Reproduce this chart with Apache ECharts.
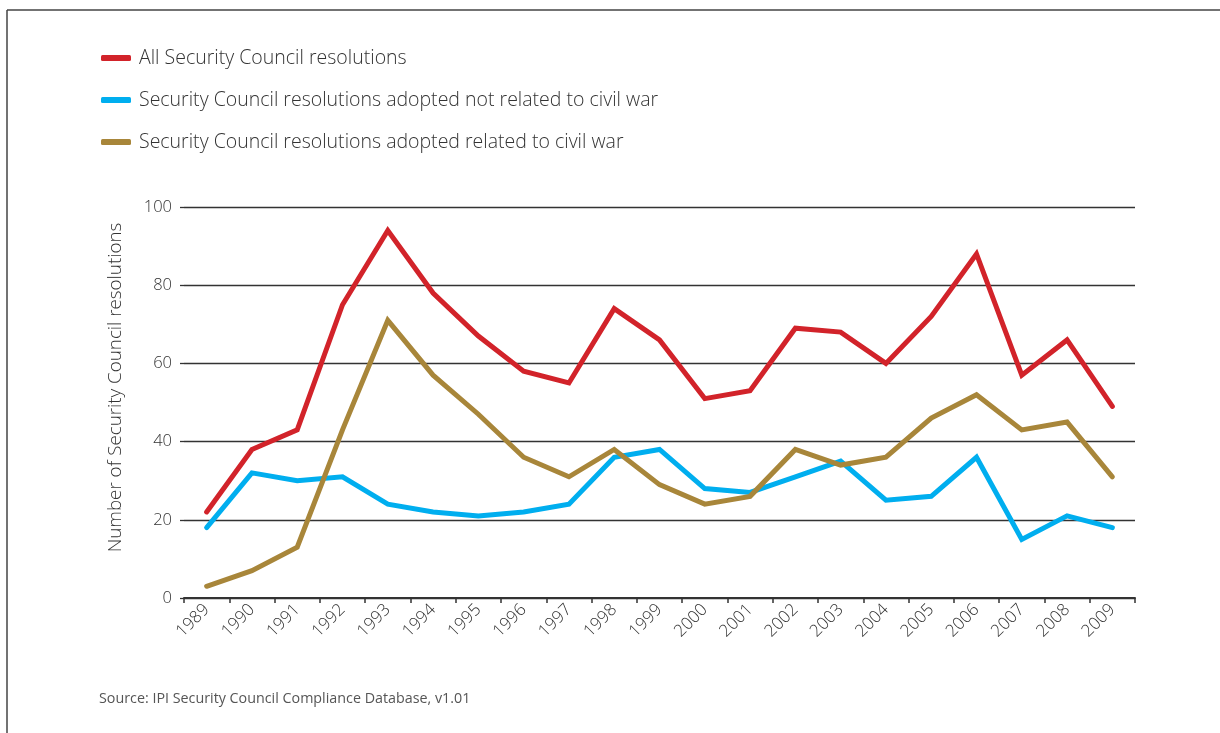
<!DOCTYPE html>
<html>
<head>
<meta charset="utf-8">
<script src="https://cdn.jsdelivr.net/npm/echarts@6/dist/echarts.min.js"></script>
<style>
  html, body { margin: 0; padding: 0; background: #fff; }
  #chart { width: 1220px; height: 733px; }
</style>
</head>
<body>
<div id="chart"></div>
<script>
const years = ['1989', '1990', '1991', '1992', '1993', '1994', '1995', '1996', '1997', '1998', '1999',
  '2000', '2001', '2002', '2003', '2004', '2005', '2006', '2007', '2008', '2009'];

const allResolutions = [22, 38, 43, 75, 94, 78, 67, 58, 55, 74, 66, 51, 53, 69, 68, 60, 72, 88, 57, 66, 49];
const notCivilWar = [18, 32, 30, 31, 24, 22, 21, 22, 24, 36, 38, 28, 27, 31, 35, 25, 26, 36, 15, 21, 18];
const civilWar = [3, 7, 13, 43, 71, 57, 47, 36, 31, 38, 29, 24, 26, 38, 34, 36, 46, 52, 43, 45, 31];

const yTicks = [0, 20, 40, 60, 80, 100];

const SERIES = [
  { name: 'All Security Council resolutions', color: '#d2232a', data: allResolutions },
  { name: 'Security Council resolutions adopted not related to civil war', color: '#00aeef', data: notCivilWar },
  { name: 'Security Council resolutions adopted related to civil war', color: '#a8863a', data: civilWar },
];

const FONT = '"Open Sans", Lato, sans-serif';
const chart = echarts.init(document.getElementById('chart'));

const option = {
  backgroundColor: '#fff',
  animation: false,
  legend: {
    orient: 'vertical',
    left: 101,
    top: 48,
    padding: 0,
    itemGap: 22,
    itemWidth: 30,
    itemHeight: 6,
    icon: 'roundRect',
    data: SERIES.map((s) => s.name),
    textStyle: {
      color: '#333',
      fontFamily: FONT,
      fontWeight: 300,
      fontSize: 19.5,
      lineHeight: 19.5,
      padding: [0, 0, 0, 3],
    },
  },
  grid: {
    left: 184,
    right: 85,
    top: 207,
    bottom: 135,
  },
  xAxis: {
    type: 'category',
    boundaryGap: true,
    data: years,
    axisLine: { lineStyle: { color: '#333', width: 2 } },
    axisTick: { show: true, length: 5, lineStyle: { color: '#333', width: 1.5 } },
    axisLabel: {
      rotate: 45,
      margin: 9,
      color: '#333',
      fontFamily: FONT,
      fontWeight: 300,
      fontSize: 17,
    },
  },
  yAxis: {
    type: 'value',
    min: yTicks[0],
    max: yTicks[yTicks.length - 1],
    interval: 20,
    name: 'Number of Security Council resolutions',
    nameLocation: 'middle',
    nameGap: 59,
    nameTextStyle: {
      color: '#333',
      fontFamily: FONT,
      fontWeight: 300,
      fontSize: 18.8,
      padding: [0, 0, 0, 30],
    },
    axisLine: { show: false },
    axisTick: { show: true, length: 4, lineStyle: { color: '#333', width: 1.3 } },
    axisLabel: {
      margin: 12,
      color: '#333',
      fontFamily: FONT,
      fontWeight: 300,
      fontSize: 16.5,
    },
    splitLine: { lineStyle: { color: '#333', width: 1.3 } },
  },
  series: SERIES.map((s) => ({
    name: s.name,
    type: 'line',
    data: s.data,
    symbol: 'none',
    color: s.color,
    lineStyle: { color: s.color, width: 5, cap: 'round', join: 'miter' },
    z: 3,
  })),
  graphic: [
    {
      type: 'line',
      shape: { x1: 7, y1: 10, x2: 1220, y2: 10 },
      style: { stroke: '#444', lineWidth: 1.5 },
    },
    {
      type: 'line',
      shape: { x1: 7, y1: 10, x2: 7, y2: 733 },
      style: { stroke: '#444', lineWidth: 1.5 },
    },
    {
      type: 'text',
      left: 99,
      top: 692,
      style: {
        text: 'Source: IPI Security Council Compliance Database, v1.01',
        fill: '#555',
        font: '14.3px ' + FONT,
      },
    },
  ],
};

chart.setOption(option);
</script>
</body>
</html>
